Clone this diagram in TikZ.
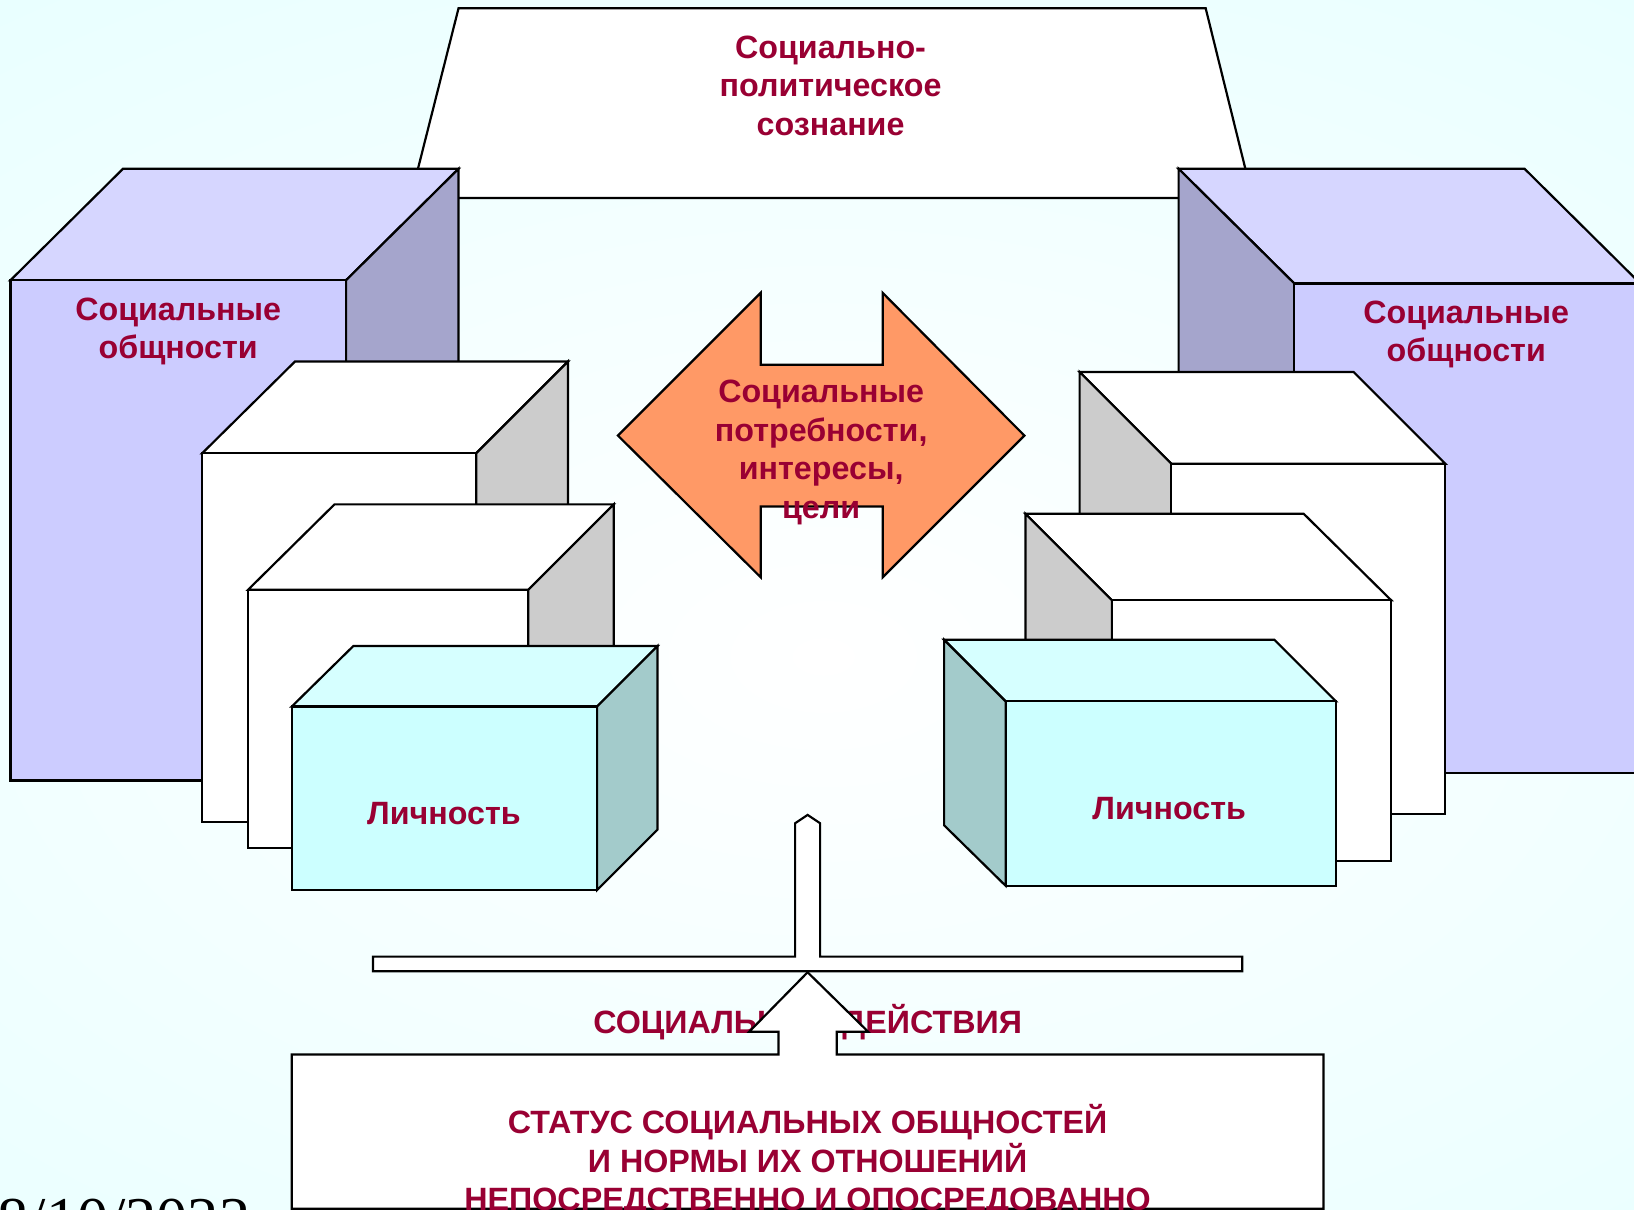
\documentclass[tikz,border=0pt]{standalone}
\usepackage{fontspec}
\setmainfont{Liberation Sans}
\newfontfamily\datefont{Liberation Serif}
\definecolor{bgcyan}{HTML}{D5FFFF}
\definecolor{txtred}{HTML}{990033}
\definecolor{pfrontc}{HTML}{CCCCFF}
\definecolor{ptopc}{HTML}{D6D6FF}
\definecolor{psidec}{HTML}{A5A5CC}
\definecolor{gsidec}{HTML}{CCCCCC}
\definecolor{cfrontc}{HTML}{CCFFFF}
\definecolor{ctopc}{HTML}{D6FFFF}
\definecolor{csidec}{HTML}{A3CBCB}
\definecolor{orangec}{HTML}{FF9966}
\tikzset{
  edge/.style={draw=black, line width=0.6pt, line join=miter},
  wbox/.style={edge, fill=white},
  gside/.style={edge, fill=gsidec},
  pfront/.style={edge, fill=pfrontc},
  ptop/.style={edge, fill=ptopc},
  pside/.style={edge, fill=psidec},
  cfront/.style={edge, fill=cfrontc},
  ctop/.style={edge, fill=ctopc},
  cside/.style={edge, fill=csidec},
  orangearrow/.style={edge, fill=orangec},
  lbl/.style={text=txtred, align=center, inner sep=0pt,
    font=\fontsize{8.8pt}{10.5pt}\selectfont\bfseries}
}
\begin{document}
\begin{tikzpicture}[x=0.01cm, y=-0.01cm]
\useasboundingbox (0,0) rectangle (1568,1161);
\clip (0,0) rectangle (1568,1161);
% background
\fill[bgcyan] (0,0) rectangle (1568,1161);
\shade[inner color=white, outer color=bgcyan] (790,630) ellipse [x radius=25cm, y radius=15cm];

% top trapezoid
\draw[wbox] (440,8) -- (1157,8) -- (1202,190) -- (394,190) -- cycle;
\node[lbl] (top) at (797,82) {Социально-\\политическое\\сознание};

% left purple box
\draw[ptop] (10,269) -- (118,162) -- (440,162) -- (332,269) -- cycle;
\draw[pside] (332,269) -- (440,162) -- (440,642) -- (332,749) -- cycle;
\draw[pfront] (10,269) rectangle (332,749);
\node[lbl] (pl) at (171,318) {Социальные\\общности};

% right purple box
\draw[ptop] (1131,162) -- (1463,162) -- (1574,272) -- (1242,272) -- cycle;
\draw[pside] (1131,162) -- (1242,272) -- (1242,742) -- (1131,632) -- cycle;
\draw[pfront] (1242,272) rectangle (1574,742);
\node[lbl] (pr) at (1407,321) {Социальные\\общности};

% left white boxes
\draw[wbox] (194,435) -- (283,347) -- (545,347) -- (457,435) -- cycle;
\draw[gside] (457,435) -- (545,347) -- (545,701) -- (457,789) -- cycle;
\draw[wbox] (194,435) rectangle (457,789);
\draw[wbox] (238,566) -- (321,484) -- (589,484) -- (507,566) -- cycle;
\draw[gside] (507,566) -- (589,484) -- (589,732) -- (507,814) -- cycle;
\draw[wbox] (238,566) rectangle (507,814);
% left person box
\draw[ctop] (280,678) -- (339,620) -- (631,620) -- (573,678) -- cycle;
\draw[cside] (573,678) -- (631,620) -- (631,796) -- (573,854) -- cycle;
\draw[cfront] (280,678) rectangle (573,854);
\node[lbl] (pers1) at (426,781) {Личность};

% right white boxes
\draw[wbox] (1036,357) -- (1299,357) -- (1387,445) -- (1124,445) -- cycle;
\draw[gside] (1036,357) -- (1124,445) -- (1124,781) -- (1036,693) -- cycle;
\draw[wbox] (1124,445) rectangle (1387,781);
\draw[wbox] (984,493) -- (1251,493) -- (1335,576) -- (1067,576) -- cycle;
\draw[gside] (984,493) -- (1067,576) -- (1067,826) -- (984,743) -- cycle;
\draw[wbox] (1067,576) rectangle (1335,826);
% right person box
\draw[ctop] (906,614) -- (1223,614) -- (1282,673) -- (965,673) -- cycle;
\draw[cside] (906,614) -- (965,673) -- (965,850) -- (906,792) -- cycle;
\draw[cfront] (965,673) rectangle (1282,850);
\node[lbl] (pers2) at (1122,776) {Личность};

% central double arrow
\draw[orangearrow] (593,418) -- (730,281) -- (730,350) -- (847,350) -- (847,281)
  -- (983,418) -- (847,554) -- (847,486) -- (730,486) -- (730,554) -- cycle;
\node[lbl] (needs) at (788,434) {Социальные\\потребности,\\интересы,\\цели};

% balance bar with stem
\draw[wbox] (358,918) -- (763,918) -- (763,790) -- (775,782) -- (787,790)
  -- (787,918) -- (1192,918) -- (1192,932) -- (358,932) -- cycle;

% social actions label
\node[lbl] (act) at (775,981) {СОЦИАЛЬНЫЕ ДЕЙСТВИЯ};

% bottom box with upward arrow
\draw[wbox] (280,1160) -- (280,1012) -- (747,1012) -- (747,990) -- (719,990)
  -- (775,933) -- (833,990) -- (803,990) -- (803,1012) -- (1270,1012)
  -- (1270,1160) -- cycle;
\node[lbl] (status) at (775,1114) {СТАТУС СОЦИАЛЬНЫХ ОБЩНОСТЕЙ\\И НОРМЫ ИХ ОТНОШЕНИЙ\\НЕПОСРЕДСТВЕННО И ОПОСРЕДОВАННО};

% date
\node[anchor=base west, inner sep=0pt, font=\datefont\fontsize{17pt}{20pt}\selectfont] (date) at (-3,1190) {8/10/2022};
\end{tikzpicture}
\end{document}
